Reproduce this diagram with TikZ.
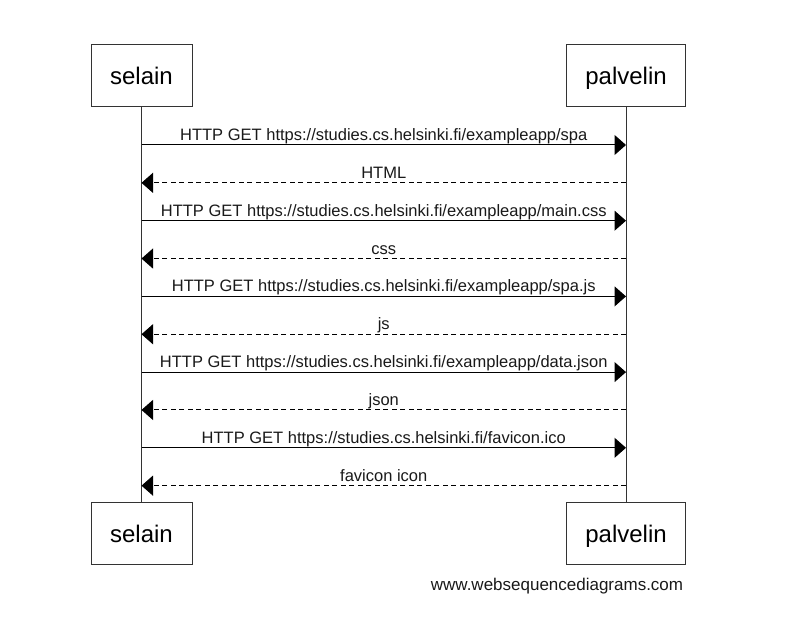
\documentclass[tikz,border=0pt]{standalone}
\usepackage{fontspec}
\setmainfont{Liberation Sans}
\usetikzlibrary{arrows.meta}
\begin{document}
\begin{tikzpicture}[x=1pt,y=-1pt,
  actor/.style={draw=black!80, line width=1pt, fill=white, minimum height=62pt,
    inner sep=0pt, font=\fontsize{24}{28}\selectfont, text height=17.5pt, text depth=0pt},
  life/.style={draw=black!80, line width=1pt},
  req/.style={draw=black, line width=1pt, -{Triangle[length=11.5pt,width=20pt]}},
  resp/.style={req, dash pattern=on 5pt off 3.5pt},
  lbl/.style={font=\fontsize{16.5}{19}\selectfont, anchor=base, yshift=4.5pt, inner sep=0pt, text=black!90}]
\useasboundingbox (0,0) rectangle (797,639);
% actors
\node[actor, minimum width=101pt] (selT) at (141.5,76) {selain};
\node[actor, minimum width=118.6pt] (palT) at (626,76) {palvelin};
\node[actor, minimum width=101pt] (selB) at (141.5,533.35) {selain};
\node[actor, minimum width=118.6pt] (palB) at (626,533.35) {palvelin};
% lifelines
\draw[life] (selT.south) -- (selB.north);
\draw[life] (palT.south) -- (palB.north);
% message points
\coordinate (a1) at (141.5,145);    \coordinate (b1) at (626,145);
\coordinate (a2) at (141.5,182.85); \coordinate (b2) at (626,182.85);
\coordinate (a3) at (141.5,220.7);  \coordinate (b3) at (626,220.7);
\coordinate (a4) at (141.5,258.55); \coordinate (b4) at (626,258.55);
\coordinate (a5) at (141.5,296.4);  \coordinate (b5) at (626,296.4);
\coordinate (a6) at (141.5,334.25); \coordinate (b6) at (626,334.25);
\coordinate (a7) at (141.5,372.1);  \coordinate (b7) at (626,372.1);
\coordinate (a8) at (141.5,409.95); \coordinate (b8) at (626,409.95);
\coordinate (a9) at (141.5,447.8);  \coordinate (b9) at (626,447.8);
\coordinate (a10) at (141.5,485.65); \coordinate (b10) at (626,485.65);
% messages
\draw[req] (a1) -- node[lbl]{HTTP GET https://studies.cs.helsinki.fi/exampleapp/spa} (b1);
\draw[resp] (b2) -- node[lbl]{HTML} (a2);
\draw[req] (a3) -- node[lbl]{HTTP GET https://studies.cs.helsinki.fi/exampleapp/main.css} (b3);
\draw[resp] (b4) -- node[lbl]{css} (a4);
\draw[req] (a5) -- node[lbl]{HTTP GET https://studies.cs.helsinki.fi/exampleapp/spa.js} (b5);
\draw[resp] (b6) -- node[lbl]{js} (a6);
\draw[req] (a7) -- node[lbl]{HTTP GET https://studies.cs.helsinki.fi/exampleapp/data.json} (b7);
\draw[resp] (b8) -- node[lbl]{json} (a8);
\draw[req] (a9) -- node[lbl]{HTTP GET https://studies.cs.helsinki.fi/favicon.ico} (b9);
\draw[resp] (b10) -- node[lbl]{favicon icon} (a10);
% watermark
\node[font=\fontsize{17}{20}\selectfont, anchor=base, inner sep=0pt, text=black!90] (wm) at (557,590) {www.websequencediagrams.com};
\end{tikzpicture}
\end{document}
